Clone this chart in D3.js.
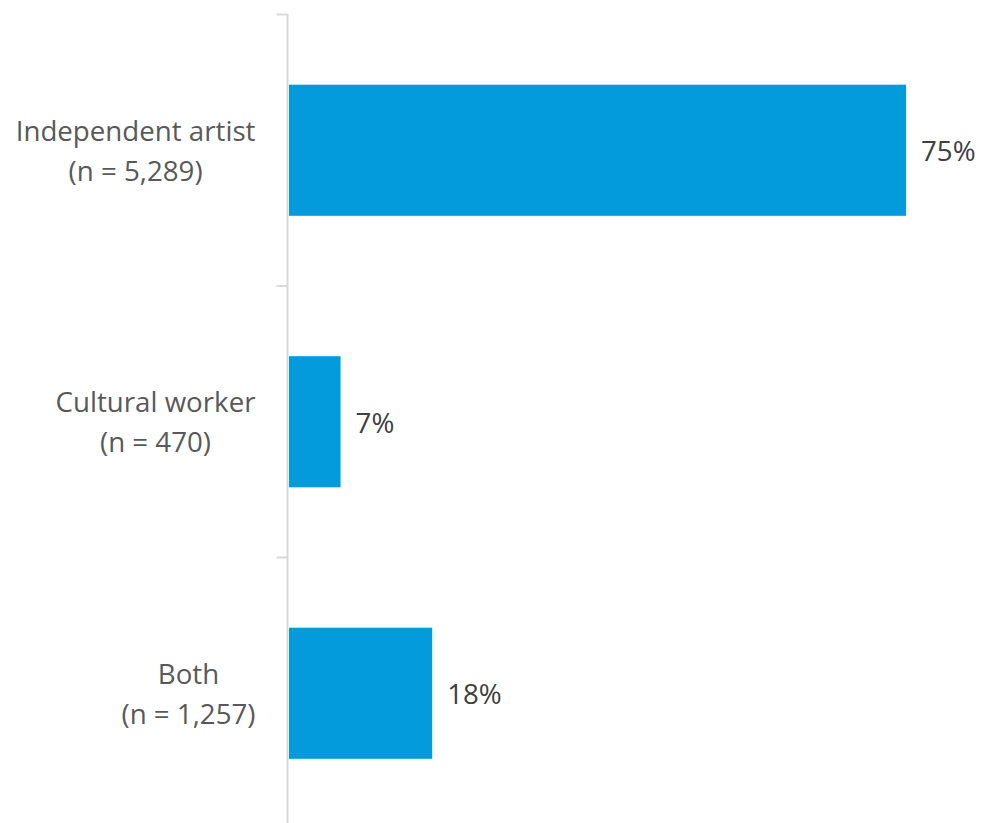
<!DOCTYPE html>
<html><head><meta charset="utf-8">
<script src="https://cdn.jsdelivr.net/npm/d3@7"></script>
<style>body{margin:0;background:#fff}svg{display:block}</style>
</head><body>
<svg id="c" width="984" height="823"></svg>
<script>
const categories = ["Independent artist", "Cultural worker", "Both"];
const sampleSizes = ["(n = 5,289)", "(n = 470)", "(n = 1,257)"];
const values = [75.4, 6.3, 17.5];
const valueLabels = ["75%", "7%", "18%"];

const svg = d3.select("#c");
const axisX = 287.5;
const y = d3.scaleBand().domain(categories).range([14.5, 829]).paddingInner(0.517).paddingOuter(0.2585);
const x = d3.scaleLinear().domain([0, 75.4]).range([289, 906]);
const font = "'Open Sans', sans-serif";

// bars
svg.selectAll("rect.bar").data(categories).enter().append("rect")
  .attr("class","bar")
  .attr("x", x(0))
  .attr("y", d => y(d))
  .attr("width", (d,i) => x(values[i]) - x(0))
  .attr("height", y.bandwidth())
  .attr("fill", "#039BDB");

// axis line and category boundary ticks
const g = svg.append("g").attr("transform", `translate(${axisX},0)`);
const step = y.step();
const bounds = d3.range(categories.length + 1).map(i => y.range()[0] + i * step);
g.selectAll("line.tk").data(bounds).enter().append("line")
  .attr("x1", -11).attr("x2", 0).attr("y1", d => d).attr("y2", d => d)
  .attr("stroke", "#D9D9D9").attr("stroke-width", 2);
g.append("line").attr("x1",0).attr("x2",0).attr("y1",14).attr("y2",829)
  .attr("stroke", "#D9D9D9").attr("stroke-width", 2);

// font size fitted so "Independent artist" is ~240px wide
const probe = svg.append("text").text(categories[0]).attr("font-family", font).attr("font-size", 100);
const fs = 100 * 240 / probe.node().getComputedTextLength();
probe.remove();

categories.forEach((c, i) => {
  const cy = y(c) + y.bandwidth()/2;
  const t1 = svg.append("text").text(c).attr("font-family", font).attr("font-size", fs).attr("fill","#595959");
  const t2 = svg.append("text").text(sampleSizes[i]).attr("font-family", font).attr("font-size", fs).attr("fill","#595959");
  const W = Math.max(t1.node().getComputedTextLength(), t2.node().getComputedTextLength());
  const center = 255.5 - W/2;
  t1.attr("x", center).attr("text-anchor","middle").attr("y", cy - 19).attr("dy","0.35em");
  t2.attr("x", center).attr("text-anchor","middle").attr("y", cy + 21).attr("dy","0.35em");
});

// value labels
svg.selectAll("text.val").data(categories).enter().append("text")
  .attr("class","val")
  .attr("x", (d,i) => x(values[i]) + 15)
  .attr("y", d => y(d) + y.bandwidth()/2 + 1.5)
  .attr("dy","0.35em")
  .attr("font-family", font).attr("font-size", fs).attr("fill","#404040")
  .text((d,i) => valueLabels[i]);
</script>
</body></html>
